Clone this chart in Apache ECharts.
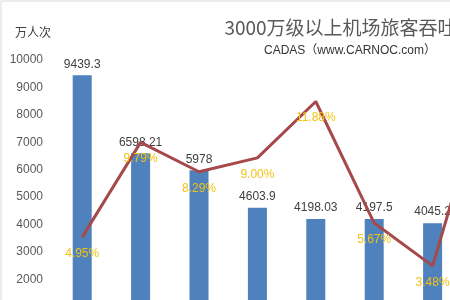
<!DOCTYPE html>
<html>
<head>
<meta charset="utf-8">
<script src="https://cdn.jsdelivr.net/npm/echarts@6/dist/echarts.min.js"></script>
<style>
html,body{margin:0;padding:0;background:#fff;}
#chart{width:450px;height:300px;}
</style>
</head>
<body>
<div id="chart"></div>
<script>
// ---- data ----
var categories = ['北京首都', '上海浦东', '广州白云', '成都双流', '昆明长水', '深圳宝安', '上海虹桥', '西安咸阳'];
var passengers = [9439.3, 6598.21, 5978, 4603.9, 4198.03, 4197.5, 4045.2, 3699.45];
var growth = [4.95, 9.79, 8.29, 9.00, 11.88, 5.67, 3.48, 13.6];
var growthLabels = ['4.95%', '9.79%', '8.29%', '9.00%', '11.88%', '5.67%', '3.48%', '13.6%'];
var yTicks = [0, 1000, 2000, 3000, 4000, 5000, 6000, 7000, 8000, 9000, 10000];

var titleText = '3000万级以上机场旅客吞吐量';
var subtitleText = 'CADAS（www.CARNOC.com）';
var unitText = '万人次';

var chart = echarts.init(document.getElementById('chart'), null, {renderer: 'canvas'});
var fontLatin = '"Liberation Sans", Arial, "Noto Sans CJK SC", sans-serif';
var fontCJK = '"Noto Sans CJK SC", "Microsoft YaHei", sans-serif';

var option = {
  backgroundColor: '#ffffff',
  animation: false,
  graphic: [
    {type: 'rect', shape: {x: 1, y: 1, width: 700, height: 500},
     style: {fill: 'none', stroke: '#d9d9d9', lineWidth: 1}, silent: true},
    {type: 'text', x: 350, y: 28,
     style: {text: titleText, fill: '#595959', font: '19px ' + fontCJK,
             textAlign: 'center', textVerticalAlign: 'middle'}},
    {type: 'text', x: 350, y: 51,
     style: {text: subtitleText, fill: '#333333', font: '12px ' + fontLatin,
             textAlign: 'center', textVerticalAlign: 'middle'}}
  ],
  grid: {left: 53, top: 60, bottom: -34, right: 450 - 53 - categories.length * 58.4,
         containLabel: false, outerBoundsMode: 'none'},
  xAxis: {
    type: 'category',
    data: categories,
    axisTick: {show: false},
    axisLine: {lineStyle: {color: '#d9d9d9'}},
    axisLabel: {color: '#595959', fontFamily: fontCJK, fontSize: 12}
  },
  yAxis: [
    {
      type: 'value', min: yTicks[0], max: yTicks[yTicks.length - 1], interval: 1000,
      name: unitText,
      nameLocation: 'end',
      nameGap: 22,
      nameTextStyle: {color: '#404040', fontFamily: fontCJK, fontSize: 12, align: 'right', padding: [0, 2, 0, 0]},
      axisLine: {show: false},
      axisTick: {show: false},
      splitLine: {show: false},
      axisLabel: {color: '#595959', fontFamily: fontLatin, fontSize: 12, margin: 10,
                  formatter: function (v) { return String(v); }}
    },
    {
      type: 'value', min: 0, max: 14, show: false, splitLine: {show: false}
    }
  ],
  series: [
    {
      type: 'bar',
      data: passengers,
      barWidth: 19,
      itemStyle: {color: '#4F81BD'},
      label: {show: true, position: 'top', distance: 5, color: '#404040',
              fontFamily: fontLatin, fontSize: 12},
      z: 2
    },
    {
      type: 'line',
      yAxisIndex: 1,
      data: growth,
      symbol: 'circle',
      symbolSize: 1,
      showSymbol: true,
      itemStyle: {color: 'rgba(0,0,0,0)'},
      lineStyle: {color: '#A5494A', width: 3},
      label: {show: true, position: 'bottom', distance: 10, color: '#F2C314',
              fontFamily: fontLatin, fontSize: 12,
              formatter: function (p) { return growthLabels[p.dataIndex]; }},
      z: 3
    }
  ]
};
chart.setOption(option);
</script>
</body>
</html>
